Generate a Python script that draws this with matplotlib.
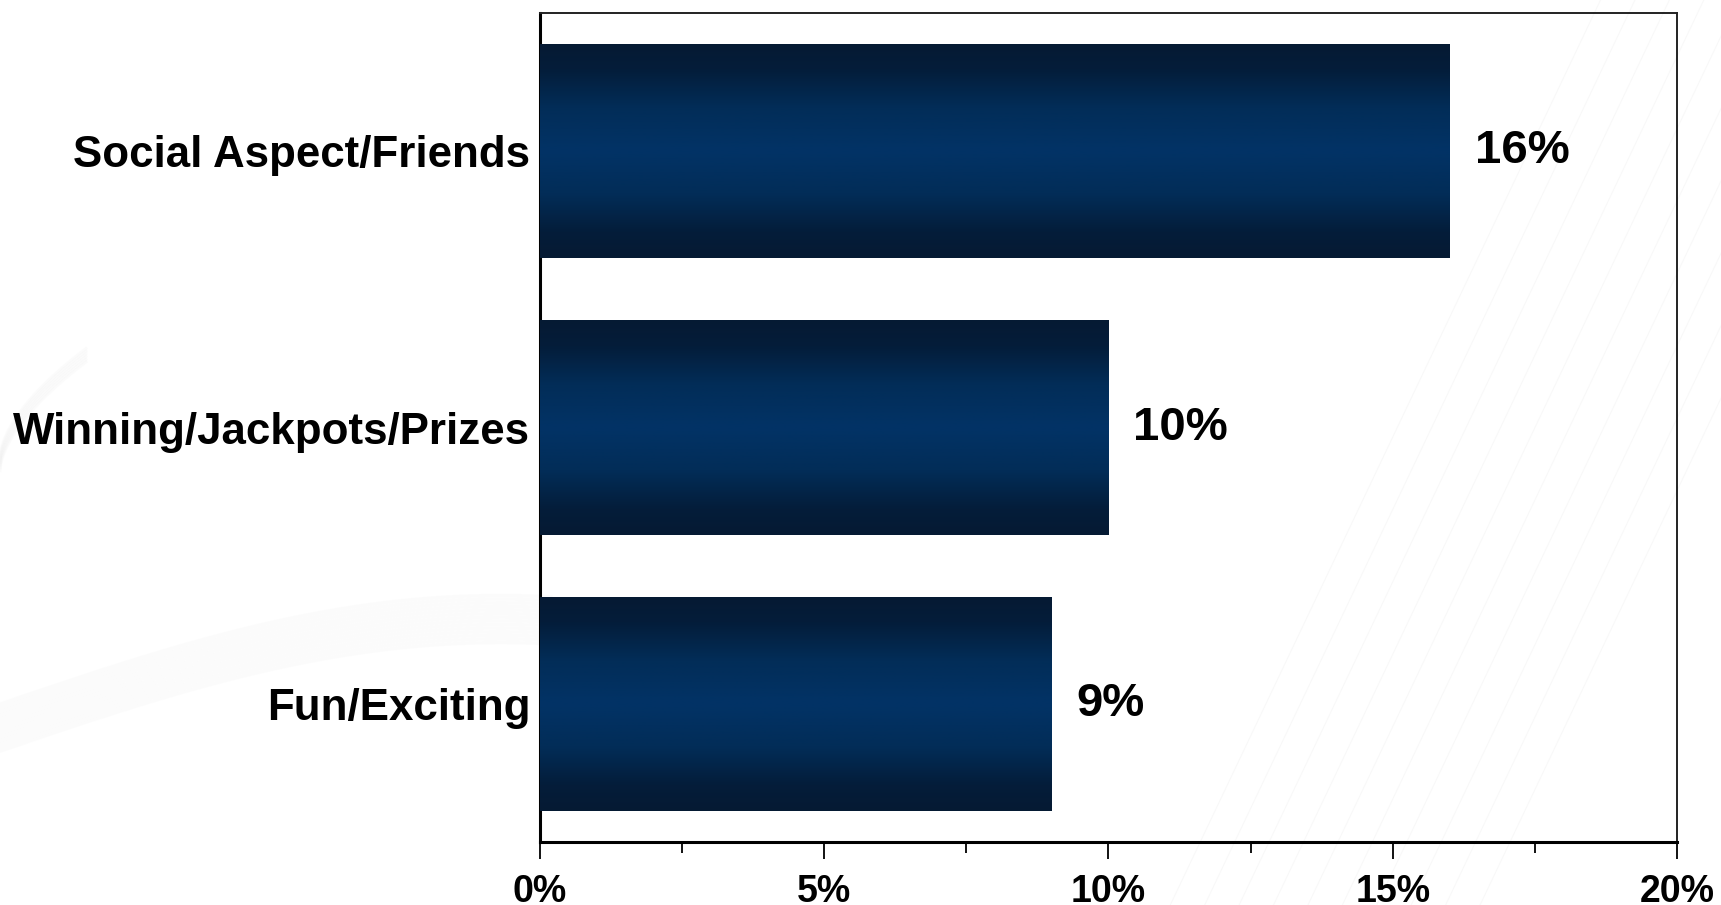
import numpy as np
import matplotlib.pyplot as plt
from matplotlib.colors import LinearSegmentedColormap
from matplotlib.ticker import MultipleLocator

categories = ['Social Aspect/Friends', 'Winning/Jackpots/Prizes', 'Fun/Exciting']
values = [16, 10, 9]
xticks = [0, 5, 10, 15, 20]
xtick_labels = ['0%', '5%', '10%', '15%', '20%']

plt.rcParams['font.family'] = ['Liberation Sans', 'DejaVu Sans']
plt.rcParams['font.weight'] = 'bold'

fig = plt.figure(figsize=(17.21, 9.05), dpi=100)
fig.patch.set_facecolor('white')

# faint watermark swooshes in the background
bg = fig.add_axes([0, 0, 1, 1], zorder=0)
bg.set_xlim(0, 1)
bg.set_ylim(0, 1)
bg.axis('off')
t = np.linspace(0, 1, 300)
for k in range(14):
    off = k * 0.004
    bg.plot(t * 0.32, 0.17 + off + 0.12 * np.sin(t * np.pi * 0.55), color='#f1f1f1',
            lw=2.5, alpha=0.22)
for k in range(6):
    off = k * 0.003
    bg.plot(0.05 * t, 0.48 + off + 0.12 * t ** 0.6, color='#f0f0f0', lw=2, alpha=0.25)
for a in np.linspace(0.15, 0.6, 10):
    bg.plot([0.62 + 0.4 * a, 0.62 + 0.4 * a + 0.25], [0.0, 1.0], color='#f6f6f6', lw=0.8, alpha=0.7)

ax = fig.add_axes([0.3138, 0.0696, 0.6606, 0.916], zorder=1)
ax.patch.set_alpha(0)

cmap = LinearSegmentedColormap.from_list('navy', [
    (0.0, '#061a33'), (0.12, '#041d3a'), (0.3, '#022d58'), (0.5, '#023366'),
    (0.7, '#022d58'), (0.88, '#041d3a'), (1.0, '#061a33')])

y = np.arange(len(categories))
bars = ax.barh(y, values, height=0.775, color='#02305e', zorder=2)
grad = np.linspace(0, 1, 256).reshape(-1, 1)
for b in bars:
    x0, y0 = b.get_x(), b.get_y()
    w, h = b.get_width(), b.get_height()
    im = ax.imshow(grad, cmap=cmap, extent=[x0, x0 + w, y0 + h, y0],
                   aspect='auto', interpolation='bicubic', zorder=3)
    im.set_clip_path(b)

for i, v in enumerate(values):
    ax.annotate(f'{v}%', xy=(v, i), xytext=(18, 0), textcoords='offset points',
                va='center', ha='left', fontsize=34, fontweight='bold', color='black')

ax.set_xlim(0, 20)
ax.set_ylim(2.5, -0.5)
ax.set_xticks(xticks)
ax.set_xticklabels(xtick_labels)
ax.xaxis.set_minor_locator(MultipleLocator(2.5))
ax.tick_params(axis='x', which='major', length=12, width=1.3, direction='out', pad=11, labelsize=27)
ax.tick_params(axis='x', which='minor', length=8, width=1.3, direction='out')
ax.set_yticks(y)
ax.set_yticklabels(categories, fontsize=31.6, fontweight='bold')
ax.tick_params(axis='y', length=0, pad=7)

for side in ['left', 'bottom']:
    ax.spines[side].set_linewidth(2.2)
for side in ['top', 'right']:
    ax.spines[side].set_linewidth(1.4)
    ax.spines[side].set_color('#222222')

fig.savefig('out.png', dpi=100)
